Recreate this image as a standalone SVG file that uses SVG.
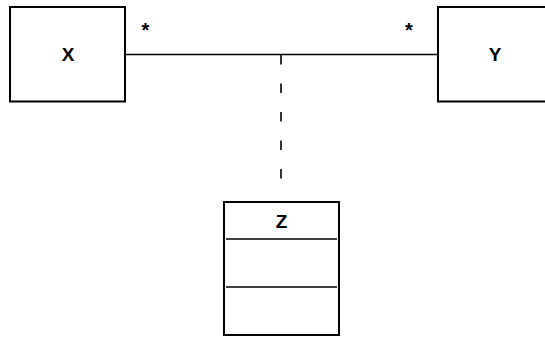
<svg xmlns="http://www.w3.org/2000/svg" width="545" height="338" viewBox="0 0 545 338">
<style>
.box{fill:#fff;stroke:#000;stroke-width:2}
.ln{stroke:#000;stroke-width:1.6;fill:none}
.t{font-family:"Liberation Sans",Arial,sans-serif;font-weight:bold;font-size:19px;fill:#000;text-anchor:middle}
.s{font-family:"Liberation Sans",Arial,sans-serif;font-weight:bold;font-size:20px;fill:#000;text-anchor:middle}
</style>
<rect width="545" height="338" fill="#fff"/>
<g id="connectors">
<line class="ln" x1="125" y1="54.5" x2="438" y2="54.5"/>
<line class="ln" x1="281" y1="55" x2="281" y2="182" stroke-dasharray="9.5 19" stroke-width="2"/>
<text class="s" x="145.5" y="37">*</text>
<text class="s" x="409" y="37">*</text>
</g>
<g id="X">
<rect class="box" x="10" y="7" width="115" height="94.5"/>
<text class="t" x="68" y="61">X</text>
</g>
<g id="Y">
<rect class="box" x="438" y="7" width="115" height="94.5"/>
<text class="t" x="495" y="61">Y</text>
</g>
<g id="Z">
<rect class="box" x="224" y="202" width="115" height="133"/>
<line class="ln" x1="226" y1="239" x2="337" y2="239"/>
<line class="ln" x1="226" y1="287" x2="337" y2="287"/>
<text class="t" x="281.5" y="228">Z</text>
</g>
</svg>
